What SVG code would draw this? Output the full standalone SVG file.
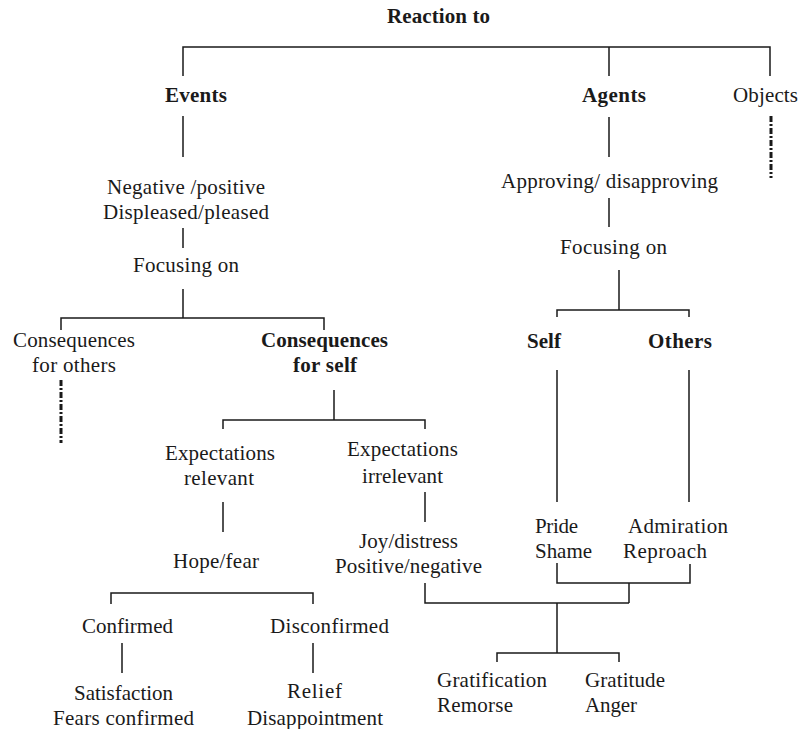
<svg xmlns="http://www.w3.org/2000/svg" width="801" height="729" viewBox="0 0 801 729">
<style>
text{font-family:"Liberation Serif","Times New Roman",serif;font-size:21px;fill:#1a1a1a;lengthAdjust:spacingAndGlyphs}
.b{font-weight:bold}
.ln{fill:none;stroke:#1a1a1a;stroke-width:1.5}
.dash{fill:none;stroke:#1a1a1a;stroke-width:3;stroke-dasharray:6 2 2 2}
</style>
<rect width="801" height="729" fill="#ffffff"/>
<g id="connectors">
<path class="ln" d="M183,76 V47 H770 V76 M609,47 V76"/>
<path class="ln" d="M183,116 V157 M183,228 V248 M183,289 V318 M61,330 V318 H324 V330"/>
<path class="ln" d="M334,390 V420 M223,429 V420 H425 V429 M223,502 V532 M425,492 V522"/>
<path class="ln" d="M111,604 V593 H313 V604 M122,643 V673 M313,643 V673"/>
<path class="ln" d="M609,117 V157 M609,198 V227 M619,270 V310 M557,317 V310 H689 V317 M557,370 V502 M689,370 V502"/>
<path class="ln" d="M557,563 V583 H690 V564 M629,583 V603 M425,583 V603 H629 M557,603 V653 M497,662 V653 H619 V662"/>
<path class="dash" d="M61,380 V443"/>
<path class="dash" d="M771,116 V178"/>
</g>
<g id="reaction"><text class="b" x="387" y="23" textLength="103">Reaction to</text></g>
<g id="events"><text class="b" x="165" y="102" textLength="62">Events</text></g>
<g id="agents"><text class="b" x="582" y="102" textLength="64">Agents</text></g>
<g id="objects"><text x="733" y="102" textLength="65">Objects</text></g>
<g id="negpos"><text x="107" y="194" textLength="158">Negative /positive</text><text x="103" y="219" textLength="166">Displeased/pleased</text></g>
<g id="focus-left"><text x="133" y="272" textLength="106">Focusing on</text></g>
<g id="cons-others"><text x="13" y="347" textLength="122">Consequences</text><text x="32" y="372" textLength="84">for others</text></g>
<g id="cons-self"><text class="b" x="261" y="347" textLength="127">Consequences</text><text class="b" x="293" y="372" textLength="64">for self</text></g>
<g id="approving"><text x="501" y="188" textLength="217">Approving/ disapproving</text></g>
<g id="focus-right"><text x="560" y="254" textLength="107">Focusing on</text></g>
<g id="self"><text class="b" x="527" y="348" textLength="34">Self</text></g>
<g id="others"><text class="b" x="648" y="348" textLength="64">Others</text></g>
<g id="exp-rel"><text x="165" y="460" textLength="110">Expectations</text><text x="184" y="485" textLength="70">relevant</text></g>
<g id="exp-irrel"><text x="347" y="456" textLength="111">Expectations</text><text x="362" y="483" textLength="81">irrelevant</text></g>
<g id="hope"><text x="173" y="568" textLength="86">Hope/fear</text></g>
<g id="joy"><text x="359" y="548" textLength="99">Joy/distress</text><text x="335" y="573" textLength="147">Positive/negative</text></g>
<g id="pride"><text x="535" y="533" textLength="43">Pride</text><text x="535" y="558" textLength="57">Shame</text></g>
<g id="admiration"><text x="628" y="533" textLength="100">Admiration</text><text x="623" y="558" textLength="84">Reproach</text></g>
<g id="confirmed"><text x="82" y="633" textLength="91">Confirmed</text></g>
<g id="disconfirmed"><text x="270" y="633" textLength="119">Disconfirmed</text></g>
<g id="satisfaction"><text x="74" y="700" textLength="99">Satisfaction</text><text x="53" y="725" textLength="141">Fears confirmed</text></g>
<g id="relief"><text x="287" y="698" textLength="55">Relief</text><text x="247" y="725" textLength="136">Disappointment</text></g>
<g id="gratification"><text x="437" y="687" textLength="110">Gratification</text><text x="437" y="712" textLength="76">Remorse</text></g>
<g id="gratitude"><text x="585" y="687" textLength="80">Gratitude</text><text x="585" y="712" textLength="52">Anger</text></g>
</svg>
